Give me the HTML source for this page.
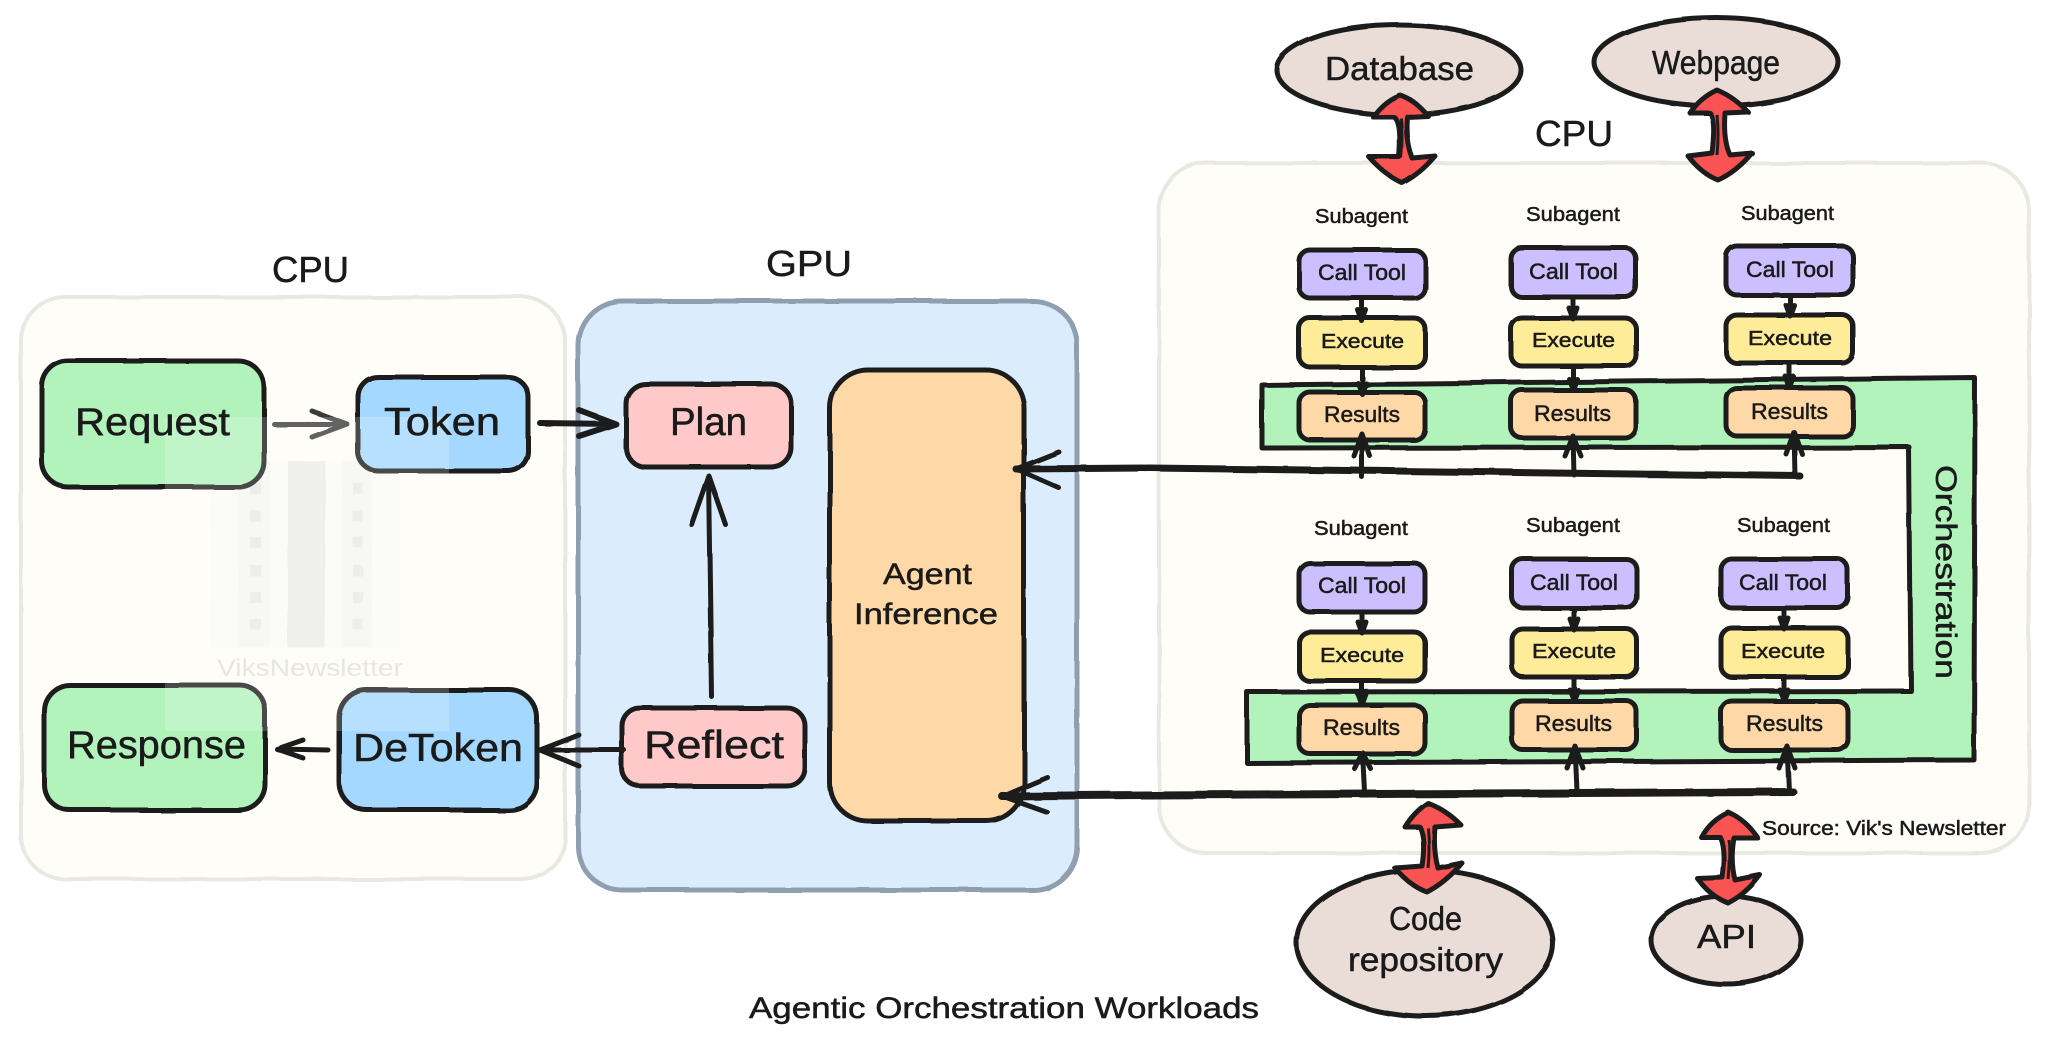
<!DOCTYPE html>
<html><head><meta charset="utf-8"><title>Agentic Orchestration Workloads</title>
<style>
html,body{margin:0;padding:0;background:#fff;width:2048px;height:1048px;overflow:hidden}
svg{display:block}
text{font-family:"Liberation Sans",sans-serif;fill:#1a1a1a;stroke:#1a1a1a;stroke-width:.5}
.b{stroke:#1e1e1e;stroke-width:5;stroke-linejoin:round}
.l{fill:none;stroke:#1e1e1e;stroke-linecap:round;stroke-linejoin:round}
.r{fill:#fa5252;stroke:#1e1e1e;stroke-width:5;stroke-linejoin:round}
</style></head><body>
<svg width="2048" height="1048" viewBox="0 0 2048 1048" xmlns="http://www.w3.org/2000/svg">
<defs><filter id="w" x="-2%" y="-2%" width="104%" height="104%"><feTurbulence type="fractalNoise" baseFrequency=".015" numOctaves="2" seed="4"/><feDisplacementMap in="SourceGraphic" scale="3"/></filter></defs>
<rect width="2048" height="1048" fill="#fff"/>
<g filter="url(#w)">
<!-- panels -->
<rect x="21" y="297" width="544" height="582" rx="44" fill="#fffdf7" stroke="#e9e9e3" stroke-width="4"/>
<rect x="578" y="301" width="499" height="589" rx="44" fill="#dbedfd" stroke="#8f9fb0" stroke-width="5"/>
<rect x="1159" y="163" width="870" height="690" rx="48" fill="#fffdf7" stroke="#e9e9e3" stroke-width="4"/>
<!-- watermark base -->
<rect x="210" y="461" width="190" height="187" fill="#fbfaf6"/>
<rect x="238" y="461" width="32" height="187" fill="#f6f6f2"/>
<rect x="288" y="461" width="37" height="187" fill="#ebece8"/>
<rect x="342" y="461" width="30" height="187" fill="#f6f6f2"/>
<path d="M250 483h11v11h-11zM250 511h11v11h-11zM250 537h11v11h-11zM250 565h11v11h-11zM250 592h11v11h-11zM250 619h11v11h-11zM353 483h10v11h-10zM353 511h10v11h-10zM353 537h10v11h-10zM353 565h10v11h-10zM353 592h10v11h-10zM353 619h10v11h-10z" fill="#e9e9e6"/>
<!-- left boxes -->
<rect class="b" x="42" y="361" width="222" height="126" rx="26" fill="#b2f2bb"/>
<rect class="b" x="358" y="377" width="170" height="94" rx="20" fill="#a5d8ff"/>
<rect class="b" x="626" y="384" width="165" height="83" rx="20" fill="#ffc9c9"/>
<rect class="b" x="830" y="370" width="194" height="451" rx="38" fill="#ffd8a8"/>
<rect class="b" x="44" y="685" width="221" height="125" rx="26" fill="#b2f2bb"/>
<rect class="b" x="339" y="690" width="198" height="120" rx="28" fill="#a5d8ff"/>
<rect class="b" x="622" y="708" width="183" height="78" rx="18" fill="#ffc9c9"/>
<!-- left arrows -->
<path class="l" stroke-width="5" style="stroke:#3a3a3a" d="M274 424H347M312 411L347 424L312 437"/>
<path class="l" stroke-width="6" d="M540 423L616 424M579 410L616 424L579 436"/>
<path class="l" stroke-width="5" d="M712 697L709 476M692 525L709 476L726 525"/>
<path class="l" stroke-width="5" d="M624 750H540M579 735L540 750L579 766"/>
<path class="l" stroke-width="5" d="M328 750L277 749M303 740L277 749L303 758"/>
<!-- orchestration band -->
<path d="M1262 385L1975 378L1974 760L1247 763L1247 692L1911 691L1909 447L1262 448Z" fill="#b2f2bb" stroke="#1e1e1e" stroke-width="5" stroke-linejoin="round"/>
<!-- row 1 boxes -->
<g class="b">
<rect x="1299" y="250" width="126" height="48" rx="11" fill="#cbbfff"/>
<rect x="1299" y="318" width="126" height="49" rx="11" fill="#ffec99"/>
<rect x="1299" y="392" width="126" height="48" rx="11" fill="#ffd8a8"/>
<rect x="1511" y="248" width="125" height="49" rx="11" fill="#cbbfff"/>
<rect x="1511" y="318" width="125" height="48" rx="11" fill="#ffec99"/>
<rect x="1511" y="390" width="125" height="48" rx="11" fill="#ffd8a8"/>
<rect x="1726" y="246" width="127" height="49" rx="11" fill="#cbbfff"/>
<rect x="1726" y="315" width="127" height="48" rx="11" fill="#ffec99"/>
<rect x="1726" y="388" width="127" height="48" rx="11" fill="#ffd8a8"/>
<!-- row 2 boxes -->
<rect x="1299" y="563" width="126" height="49" rx="11" fill="#cbbfff"/>
<rect x="1299" y="632" width="126" height="49" rx="11" fill="#ffec99"/>
<rect x="1299" y="705" width="126" height="49" rx="11" fill="#ffd8a8"/>
<rect x="1512" y="559" width="125" height="49" rx="11" fill="#cbbfff"/>
<rect x="1512" y="629" width="125" height="48" rx="11" fill="#ffec99"/>
<rect x="1512" y="701" width="125" height="49" rx="11" fill="#ffd8a8"/>
<rect x="1721" y="559" width="127" height="49" rx="11" fill="#cbbfff"/>
<rect x="1721" y="628" width="127" height="49" rx="11" fill="#ffec99"/>
<rect x="1721" y="701" width="127" height="49" rx="11" fill="#ffd8a8"/>
</g>
<!-- small vertical arrows -->
<path class="l" stroke-width="5" d="M1362 298V320M1358 310L1362 321L1366 310M1362 367V394M1358 383L1362 394L1366 383M1573 297V318M1569 308L1573 319L1577 308M1573 366V390M1569 379L1573 390L1577 379M1790 295V315M1786 305L1790 316L1794 305M1790 363V388M1786 377L1790 388L1794 377M1362 612V632M1358 622L1362 633L1366 622M1362 681V705M1358 694L1362 705L1366 694M1574 608V629M1570 619L1574 630L1578 619M1574 677V701M1570 690L1574 701L1578 690M1784 608V628M1780 618L1784 629L1788 618M1784 677V701M1780 690L1784 701L1788 690"/>
<!-- bus 1 -->
<path class="l" stroke-width="7" d="M1016 469L1150 468L1800 476"/>
<path class="l" stroke-width="5" d="M1059 452L1016 469L1059 488"/>
<path class="l" stroke-width="5" d="M1362 477V434M1354 456L1362 434L1370 456M1574 475L1573 436M1565 456L1573 436L1581 456M1795 476L1794 432M1786 454L1794 432L1802 454"/>
<!-- bus 2 -->
<path class="l" stroke-width="8" d="M1002 796L1150 795L1793 792"/>
<path class="l" stroke-width="5" d="M1047 777L1002 796L1047 812"/>
<path class="l" stroke-width="5" d="M1365 792L1363 753M1355 769L1363 753L1371 769M1577 791L1575 746M1567 768L1575 746L1583 768M1789 792L1787 746M1779 768L1787 746L1795 768"/>
<!-- ellipses -->
<ellipse class="b" cx="1399" cy="70" rx="122" ry="45" fill="#eaddd7"/>
<ellipse class="b" cx="1716" cy="62" rx="122" ry="44" fill="#eaddd7"/>
<ellipse class="b" cx="1425" cy="943" rx="128" ry="73" fill="#eaddd7"/>
<ellipse class="b" cx="1726" cy="940" rx="75" ry="44" fill="#eaddd7"/>
<!-- double arrows -->
<path class="r" d="M1400 95Q1384 101 1373 117L1394 117Q1402 122 1399 157L1369 157Q1386 176 1402 183Q1420 174 1435 156L1412 158Q1405 140 1407 117L1428 116Q1415 100 1400 95Z"/>
<path class="r" d="M1717 90Q1700 98 1690 113L1710 113Q1716 120 1712 153L1688 156Q1702 174 1718 180Q1736 172 1752 153L1730 155Q1723 140 1725 113L1748 112Q1734 97 1717 90Z"/>
<path class="r" d="M1428 803Q1414 812 1405 827L1420 827Q1426 840 1422 866L1395 868Q1410 886 1427 892Q1446 882 1462 863L1438 868Q1433 850 1435 827L1461 825Q1446 810 1428 803Z"/>
<path class="r" d="M1728 812Q1710 820 1701 837L1720 837Q1726 850 1722 877L1697 878Q1710 896 1728 903Q1746 894 1760 875L1735 880Q1730 860 1734 838L1758 838Q1746 820 1728 812Z"/>
<path d="M1401 118Q1403 140 1401 158M1717 115Q1719 135 1717 155M1428 828Q1430 850 1428 868M1729 840Q1730 860 1728 879" stroke="#1e1e1e" stroke-width="3" fill="none"/>
</g>
<!-- white watermark overlay -->
<rect x="165" y="417" width="284" height="314" fill="#fff" opacity=".2"/>
<!-- text -->
<text x="272" y="282" font-size="36" textLength="77" lengthAdjust="spacingAndGlyphs">CPU</text>
<text x="766" y="276" font-size="36" textLength="86" lengthAdjust="spacingAndGlyphs">GPU</text>
<text x="1535" y="146" font-size="36" textLength="78" lengthAdjust="spacingAndGlyphs">CPU</text>
<text x="75" y="435" font-size="39" textLength="155" lengthAdjust="spacingAndGlyphs">Request</text>
<text x="384" y="435" font-size="39" textLength="116" lengthAdjust="spacingAndGlyphs">Token</text>
<text x="670" y="435" font-size="39" textLength="77" lengthAdjust="spacingAndGlyphs">Plan</text>
<text x="883" y="584" font-size="30" textLength="89" lengthAdjust="spacingAndGlyphs">Agent</text>
<text x="854" y="624" font-size="30" textLength="144" lengthAdjust="spacingAndGlyphs">Inference</text>
<text x="67" y="758" font-size="39" textLength="179" lengthAdjust="spacingAndGlyphs">Response</text>
<text x="353" y="761" font-size="39" textLength="170" lengthAdjust="spacingAndGlyphs">DeToken</text>
<text x="644" y="758" font-size="39" textLength="140" lengthAdjust="spacingAndGlyphs">Reflect</text>
<text x="217" y="676" font-size="24" textLength="186" lengthAdjust="spacingAndGlyphs" style="fill:#e6e6e3;stroke:none">ViksNewsletter</text>
<text x="1325" y="80" font-size="33" textLength="149" lengthAdjust="spacingAndGlyphs">Database</text>
<text x="1652" y="74" font-size="33" textLength="128" lengthAdjust="spacingAndGlyphs">Webpage</text>
<text x="1389" y="930" font-size="33" textLength="73" lengthAdjust="spacingAndGlyphs">Code</text>
<text x="1348" y="971" font-size="33" textLength="155" lengthAdjust="spacingAndGlyphs">repository</text>
<text x="1697" y="948" font-size="33" textLength="59" lengthAdjust="spacingAndGlyphs">API</text>
<g font-size="20">
<text x="1315" y="223" textLength="93" lengthAdjust="spacingAndGlyphs">Subagent</text>
<text x="1526" y="221" textLength="94" lengthAdjust="spacingAndGlyphs">Subagent</text>
<text x="1741" y="220" textLength="93" lengthAdjust="spacingAndGlyphs">Subagent</text>
<text x="1314" y="535" textLength="94" lengthAdjust="spacingAndGlyphs">Subagent</text>
<text x="1526" y="532" textLength="94" lengthAdjust="spacingAndGlyphs">Subagent</text>
<text x="1737" y="532" textLength="93" lengthAdjust="spacingAndGlyphs">Subagent</text>
</g>
<g font-size="22">
<text x="1318" y="280" textLength="88" lengthAdjust="spacingAndGlyphs">Call Tool</text>
<text x="1529" y="279" textLength="89" lengthAdjust="spacingAndGlyphs">Call Tool</text>
<text x="1746" y="277" textLength="88" lengthAdjust="spacingAndGlyphs">Call Tool</text>
<text x="1318" y="593" textLength="88" lengthAdjust="spacingAndGlyphs">Call Tool</text>
<text x="1530" y="590" textLength="88" lengthAdjust="spacingAndGlyphs">Call Tool</text>
<text x="1739" y="590" textLength="88" lengthAdjust="spacingAndGlyphs">Call Tool</text>
<text x="1324" y="422" textLength="76" lengthAdjust="spacingAndGlyphs">Results</text>
<text x="1534" y="421" textLength="77" lengthAdjust="spacingAndGlyphs">Results</text>
<text x="1751" y="419" textLength="77" lengthAdjust="spacingAndGlyphs">Results</text>
<text x="1323" y="735" textLength="77" lengthAdjust="spacingAndGlyphs">Results</text>
<text x="1535" y="731" textLength="77" lengthAdjust="spacingAndGlyphs">Results</text>
<text x="1746" y="731" textLength="77" lengthAdjust="spacingAndGlyphs">Results</text>
</g>
<g font-size="20">
<text x="1321" y="348" textLength="83" lengthAdjust="spacingAndGlyphs">Execute</text>
<text x="1532" y="347" textLength="83" lengthAdjust="spacingAndGlyphs">Execute</text>
<text x="1748" y="345" textLength="84" lengthAdjust="spacingAndGlyphs">Execute</text>
<text x="1320" y="662" textLength="84" lengthAdjust="spacingAndGlyphs">Execute</text>
<text x="1532" y="658" textLength="84" lengthAdjust="spacingAndGlyphs">Execute</text>
<text x="1741" y="658" textLength="84" lengthAdjust="spacingAndGlyphs">Execute</text>
</g>
<text transform="translate(1936 465) rotate(90)" font-size="30" textLength="214" lengthAdjust="spacingAndGlyphs">Orchestration</text>
<text x="1762" y="835" font-size="20" textLength="244" lengthAdjust="spacingAndGlyphs">Source: Vik's Newsletter</text>
<text x="749" y="1018" font-size="30" textLength="510" lengthAdjust="spacingAndGlyphs">Agentic Orchestration Workloads</text>
</svg>
</body></html>
